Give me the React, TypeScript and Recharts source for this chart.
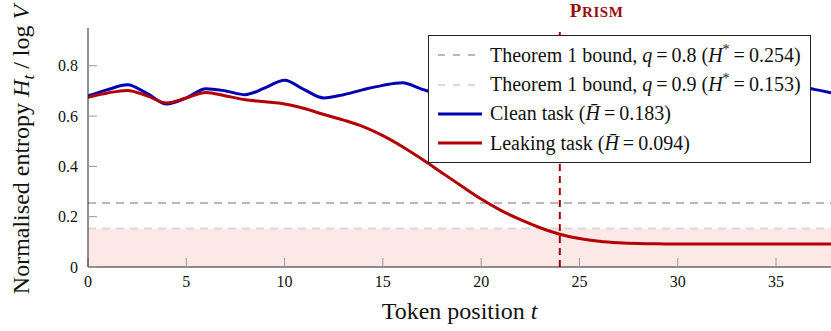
import React from "react";
import {
  LineChart,
  Line,
  XAxis,
  YAxis,
  ReferenceLine,
  ReferenceArea,
  Legend,
} from "recharts";

// ---------- data ----------
const tokenPositions = [
  0, 1, 2, 3, 4, 5, 6, 7, 8, 9, 10, 11, 12, 13, 14, 15, 16, 17, 18, 19, 20,
  21, 22, 23, 24, 25, 26, 27, 28, 29, 30, 31, 32, 33, 34, 35, 36, 37, 38,
];
const cleanEntropy = [
  0.68, 0.705, 0.724, 0.69, 0.648, 0.672, 0.709, 0.7, 0.685, 0.712, 0.742,
  0.705, 0.672, 0.685, 0.705, 0.722, 0.732, 0.706, 0.688, 0.7, 0.722, 0.71,
  0.69, 0.705, 0.72, 0.7, 0.69, 0.71, 0.725, 0.705, 0.695, 0.715, 0.728, 0.71,
  0.695, 0.71, 0.722, 0.705, 0.69,
];
const leakingEntropy = [
  0.675, 0.692, 0.702, 0.68, 0.652, 0.672, 0.694, 0.68, 0.665, 0.657, 0.648,
  0.63, 0.606, 0.584, 0.558, 0.522, 0.478, 0.428, 0.375, 0.322, 0.27, 0.225,
  0.188, 0.156, 0.13, 0.113, 0.102, 0.096, 0.093, 0.092, 0.091, 0.091, 0.091,
  0.091, 0.091, 0.091, 0.091, 0.091, 0.091,
];
const boundQ = [0.8, 0.9];
const boundH = [0.254, 0.153];
const meanClean = 0.183;
const meanLeaking = 0.094;
const detectionToken = 24;
const detectionLabel = "PRISM";
const xTicks = [0, 5, 10, 15, 20, 25, 30, 35];
const yTicks = [0, 0.2, 0.4, 0.6, 0.8];

// ---------- styles ----------
const FONT = "'Liberation Serif', 'DejaVu Serif', serif";
const BLUE = "#0000b4";
const RED = "#b40000";
const DARKRED = "#a00000";
const BOUND_COLORS = ["#b9b9b9", "#d9d9d9"];
const EQ = "\u2009=\u2009";

const data = tokenPositions.map((t, i) => ({
  t,
  clean: cleanEntropy[i],
  leaking: leakingEntropy[i],
}));

const boundText = (i: number) => (
  <>
    Theorem 1 bound, <i>q</i>
    {EQ}
    {boundQ[i]} (<i>H</i>
    <sup style={{ fontSize: "0.7em", lineHeight: 0 }}>*</sup>
    {EQ}
    {boundH[i]})
  </>
);

const legendRows = [
  { kind: "dash", color: BOUND_COLORS[0], text: boundText(0) },
  { kind: "dash", color: BOUND_COLORS[1], text: boundText(1) },
  {
    kind: "solid",
    color: BLUE,
    text: (
      <>
        Clean task (<i>H̄</i>
        {EQ}
        {meanClean})
      </>
    ),
  },
  {
    kind: "solid",
    color: RED,
    text: (
      <>
        Leaking task (<i>H̄</i>
        {EQ}
        {meanLeaking})
      </>
    ),
  },
];

const LegendBox = () => (
  <div
    style={{
      boxSizing: "border-box",
      width: 383,
      height: 128,
      border: "1px solid #222",
      background: "#fff",
      paddingTop: 4.5,
      fontFamily: FONT,
      fontSize: 20,
      color: "#111",
    }}
  >
    {legendRows.map((r, i) => (
      <div
        key={i}
        style={{
          height: 29.4,
          display: "flex",
          alignItems: "center",
          whiteSpace: "nowrap",
        }}
      >
        <svg width={44} height={6} style={{ marginLeft: 9, marginRight: 8 }}>
          <line
            x1={0}
            y1={3}
            x2={44}
            y2={3}
            stroke={r.color}
            strokeWidth={r.kind === "dash" ? 2 : 3}
            strokeDasharray={r.kind === "dash" ? "7 8" : undefined}
          />
        </svg>
        <span>{r.text}</span>
      </div>
    ))}
  </div>
);

const YLabel = (props: any) => {
  const vb = props.viewBox || { x: 48, y: 28, width: 40, height: 239 };
  const cx = vb.x - 19;
  const cy = vb.y + vb.height / 2 + 2;
  return (
    <text
      x={cx}
      y={cy}
      transform={`rotate(-90, ${cx}, ${cy})`}
      textAnchor="middle"
      fontFamily={FONT}
      fontSize={24}
      fill="#111"
    >
      Normalised entropy <tspan fontStyle="italic">H</tspan>
      <tspan fontStyle="italic" fontSize={17} dy={5}>
        t
      </tspan>
      <tspan dy={-5}> / log </tspan>
      <tspan fontStyle="italic">V</tspan>
    </text>
  );
};

const XLabel = (props: any) => {
  const vb = props.viewBox || { x: 88, y: 267, width: 747, height: 30 };
  return (
    <text
      x={vb.x + vb.width / 2 - 2}
      y={vb.y + 52}
      textAnchor="middle"
      fontFamily={FONT}
      fontSize={24}
      fill="#111"
    >
      Token position <tspan fontStyle="italic">t</tspan>
    </text>
  );
};

const PrismLabel = (props: any) => {
  const vb = props.viewBox || { x: 559, y: 28 };
  return (
    <text
      x={vb.x + 10}
      y={vb.y - 11}
      fontFamily={FONT}
      fontWeight="bold"
      fill="#9b0d0d"
      letterSpacing={0.6}
    >
      <tspan fontSize={19}>{detectionLabel.charAt(0)}</tspan>
      <tspan fontSize={15}>{detectionLabel.slice(1)}</tspan>
    </text>
  );
};

const tickStyle = { fontFamily: FONT, fontSize: 16, fill: "#111" };

export default function App() {
  return (
    <div
      style={{
        position: "absolute",
        left: 0,
        top: 0,
        width: 831,
        height: 331,
        overflow: "hidden",
        background: "#fff",
        fontFamily: FONT,
      }}
    >
      <LineChart
        width={850}
        height={331}
        data={data}
        margin={{ top: 28, right: 15, bottom: 34, left: 48 }}
      >
        <ReferenceArea
          y1={0}
          y2={boundH[1]}
          fill="#fde8e8"
          fillOpacity={1}
          stroke="none"
        />
        <ReferenceLine
          y={boundH[0]}
          stroke={BOUND_COLORS[0]}
          strokeWidth={2}
          strokeDasharray="8 6"
        />
        <ReferenceLine
          y={boundH[1]}
          stroke={BOUND_COLORS[1]}
          strokeWidth={2}
          strokeDasharray="8 6"
        />
        <ReferenceLine
          x={detectionToken}
          stroke={DARKRED}
          strokeWidth={2}
          strokeDasharray="7 5"
          label={(p: any) => <PrismLabel {...p} />}
        />
        <XAxis
          dataKey="t"
          type="number"
          domain={[0, 38]}
          ticks={xTicks}
          allowDataOverflow
          height={30}
          tickSize={-9}
          tickMargin={18}
          tick={tickStyle}
          tickLine={{ stroke: "#999" }}
          axisLine={{ stroke: "#222" }}
          label={(p: any) => <XLabel {...p} />}
        />
        <XAxis
          xAxisId="top"
          orientation="top"
          dataKey="t"
          type="number"
          domain={[0, 38]}
          ticks={xTicks}
          allowDataOverflow
          height={0}
          tickSize={-8}
          tickFormatter={() => ""}
          tickLine={{ stroke: "#999" }}
          axisLine={{ stroke: "#222" }}
        />
        <YAxis
          type="number"
          domain={[0, 0.95]}
          ticks={yTicks}
          allowDataOverflow
          width={40}
          tickSize={-9}
          tickMargin={19}
          tick={tickStyle}
          tickFormatter={(v: number) => (v === 0 ? "0" : v.toFixed(1))}
          tickLine={{ stroke: "#999" }}
          axisLine={{ stroke: "#222" }}
          label={(p: any) => <YLabel {...p} />}
        />
        <YAxis
          yAxisId="right"
          orientation="right"
          type="number"
          domain={[0, 0.95]}
          ticks={yTicks}
          width={0}
          tickSize={-8}
          tickFormatter={() => ""}
          tickLine={{ stroke: "#999" }}
          axisLine={{ stroke: "#222" }}
        />
        <Line
          type="monotone"
          dataKey="clean"
          stroke={BLUE}
          strokeWidth={3}
          dot={false}
          isAnimationActive={false}
        />
        <Line
          type="monotone"
          dataKey="leaking"
          stroke={RED}
          strokeWidth={3}
          dot={false}
          isAnimationActive={false}
        />
        <Legend
          layout="vertical"
          align="center"
          verticalAlign="middle"
          wrapperStyle={{ left: 428, top: 35, width: 383, height: 128 }}
          content={() => <LegendBox />}
        />
      </LineChart>
    </div>
  );
}
